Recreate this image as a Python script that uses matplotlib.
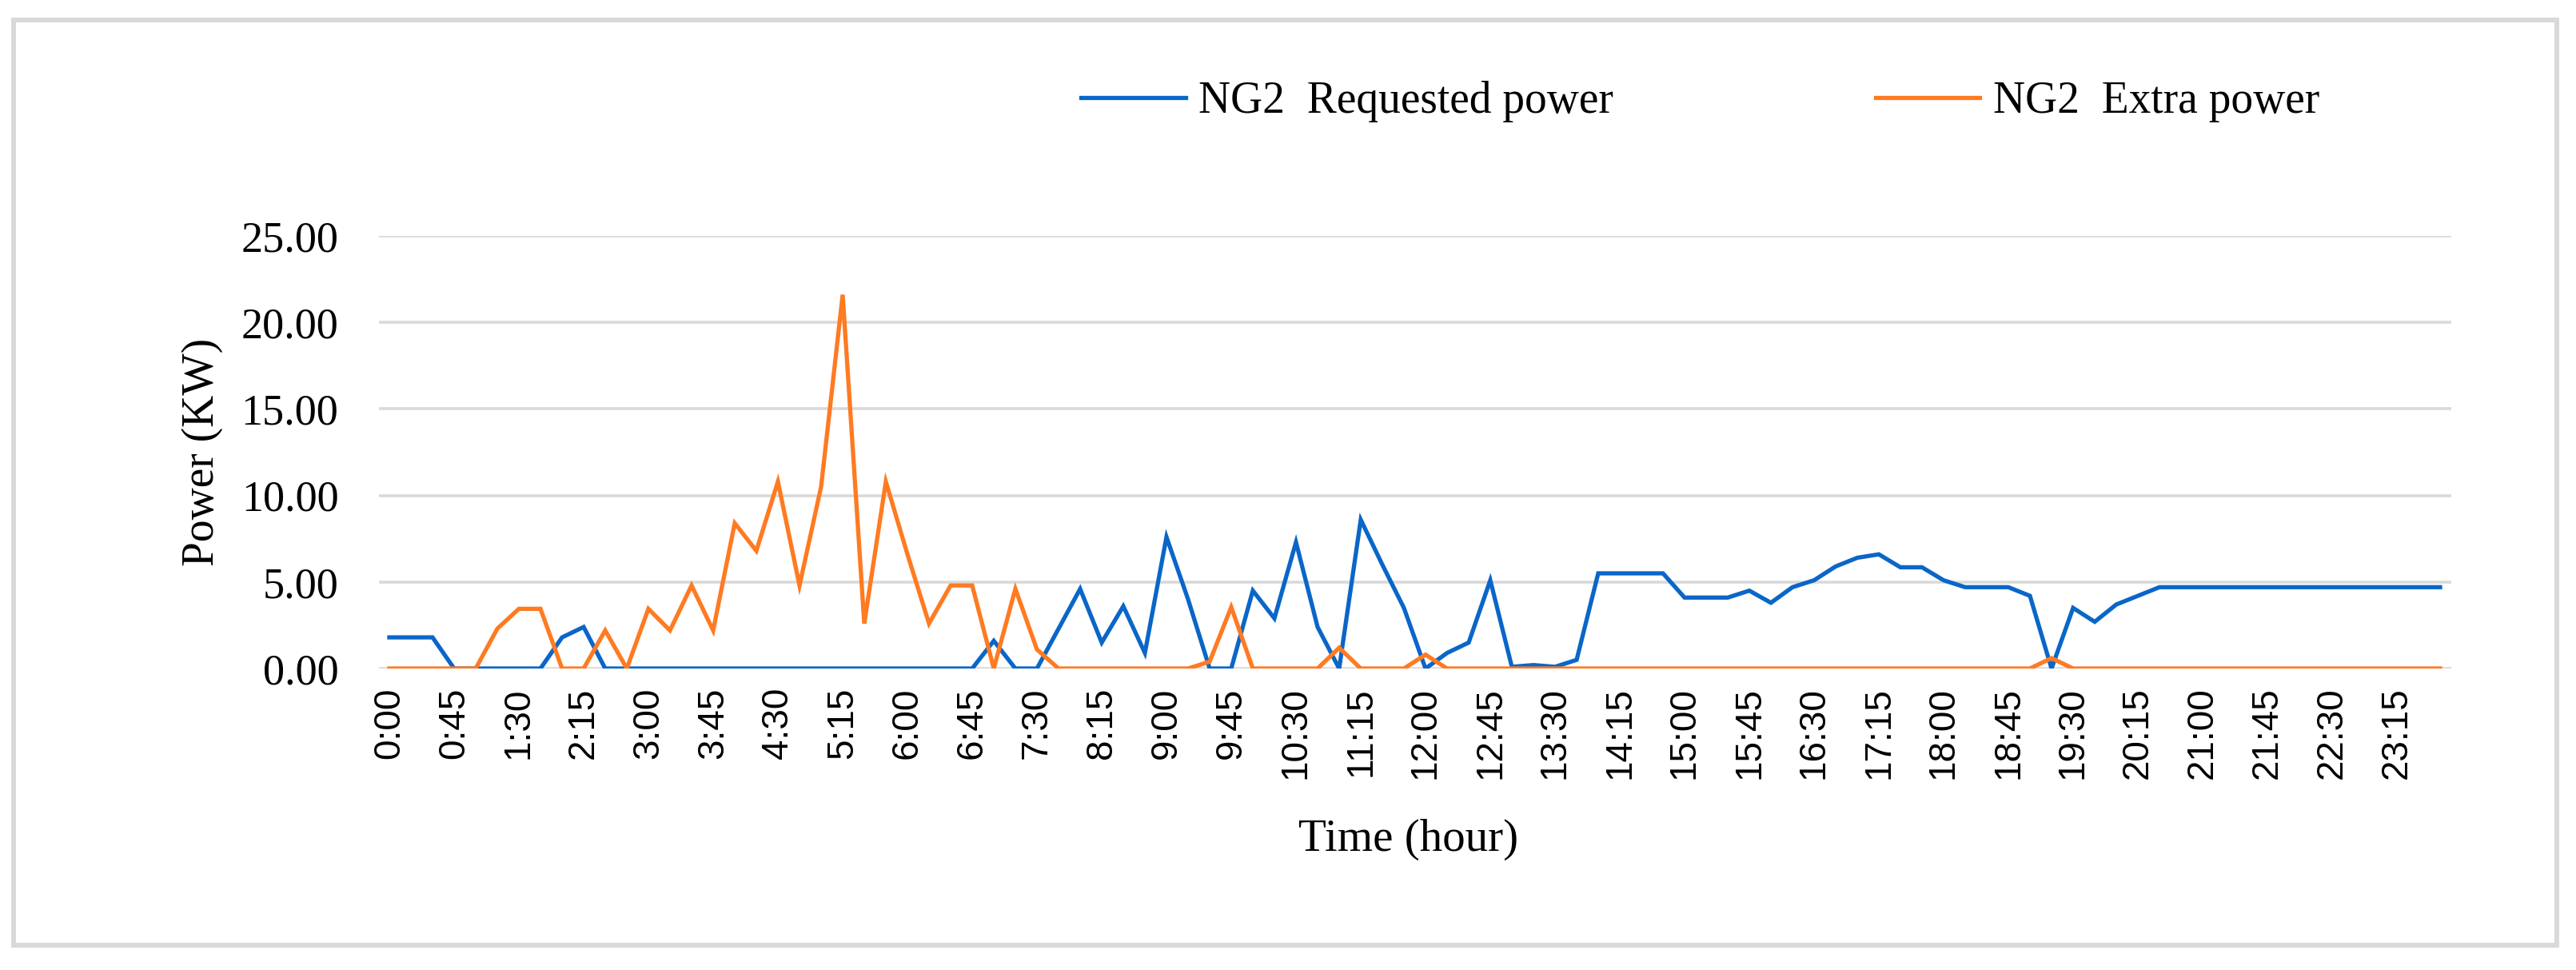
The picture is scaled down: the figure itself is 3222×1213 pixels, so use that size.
import numpy as np
import matplotlib
matplotlib.use("Agg")
import matplotlib.pyplot as plt
from matplotlib.patches import Rectangle

# 15 minute steps over one day
times = ["%d:%02d" % (i // 4, (i % 4) * 15) for i in range(96)]

requested = [1.8, 1.8, 1.8, 0, 0, 0, 0, 0, 1.8, 2.4,
             0, 0, 0, 0, 0, 0, 0, 0, 0, 0,
             0, 0, 0, 0, 0, 0, 0, 0, 1.6, 0,
             0, 2.3, 4.6, 1.5, 3.6, 0.9, 7.6, 4.0, 0, 0,
             4.5, 2.9, 7.3, 2.4, 0, 8.6, 6.0, 3.5, 0, 0.9,
             1.5, 5.1, 0.1, 0.2, 0.1, 0.5, 5.5, 5.5, 5.5, 5.5,
             4.1, 4.1, 4.1, 4.5, 3.8, 4.7, 5.1, 5.9, 6.4, 6.6,
             5.85, 5.85, 5.1, 4.7, 4.7, 4.7, 4.2, 0, 3.5, 2.7,
             3.7, 4.2, 4.7, 4.7, 4.7, 4.7, 4.7, 4.7, 4.7, 4.7,
             4.7, 4.7, 4.7, 4.7, 4.7, 4.7]

extra = [0, 0, 0, 0, 0, 2.3, 3.45, 3.45, 0, 0,
         2.2, 0, 3.45, 2.2, 4.8, 2.2, 8.4, 6.8, 10.8, 4.8,
         10.5, 21.6, 2.6, 10.8, 6.6, 2.6, 4.8, 4.8, 0, 4.6,
         1.1, 0, 0, 0, 0, 0, 0, 0, 0.4, 3.55,
         0, 0, 0, 0, 1.2, 0, 0, 0, 0.8, 0,
         0, 0, 0, 0, 0, 0, 0, 0, 0, 0,
         0, 0, 0, 0, 0, 0, 0, 0, 0, 0,
         0, 0, 0, 0, 0, 0, 0, 0.6, 0, 0,
         0, 0, 0, 0, 0, 0, 0, 0, 0, 0,
         0, 0, 0, 0, 0, 0]

labels = ["NG2  Requested power", "NG2  Extra power"]

W, H = 3222, 1213
fig = plt.figure(figsize=(W / 100, H / 100), dpi=100)
ax = fig.add_axes([473.5 / W, 1 - 836 / H, 2592 / W, 541 / H])

x = np.arange(len(times))
l1, = ax.plot(x, requested, color="#0A66C8", lw=3.8, solid_joinstyle="miter", zorder=3)
l2, = ax.plot(x, extra, color="#FF7A21", lw=3.8, solid_joinstyle="miter", zorder=4)

ax.set_xlim(-0.5, 95.5)
ax.set_ylim(0, 25)
ax.set_yticks(np.arange(0, 26, 5))
ax.set_yticklabels(["%.2f" % v for v in np.arange(0, 26, 5)],
                   family="Liberation Serif", fontsize=39)
ax.set_xticks(x[::3])
ax.set_xticklabels(times[::3], rotation=90, family="Liberation Sans", fontsize=33)
ax.tick_params(axis="both", length=0)
ax.tick_params(axis="x", pad=17)
ax.tick_params(axis="y", pad=36)
ax.yaxis.grid(True, color="#D9D9D9", lw=2.6)
ax.set_axisbelow(True)
for s in ax.spines.values():
    s.set_visible(False)

fig.text(253 / W, 1 - 565 / H, "Power (KW)", rotation=90, ha="center", va="center",
         family="Liberation Serif", fontsize=40)
fig.text(1762 / W, 1 - 1050 / H, "Time (hour)", ha="center", va="center",
         family="Liberation Serif", fontsize=41)

fig.legend([l1, l2], labels, loc="center left", bbox_to_anchor=(1302 / W, 1 - 127 / H), ncol=2,
           frameon=False, prop={"family": "Liberation Serif", "size": 40},
           handlelength=2.35, handletextpad=0.3, columnspacing=5.9)

fig.patches.append(Rectangle((17 / W, 1 - 1182 / H), (3198 - 17) / W, (1182 - 25) / H,
                             transform=fig.transFigure, fill=False, ec="#D9D9D9", lw=4.3))

fig.savefig("out.png", dpi=100)
